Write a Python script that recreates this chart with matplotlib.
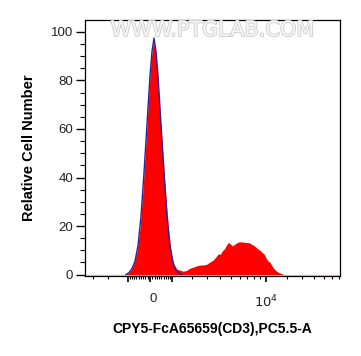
import numpy as np
import matplotlib
matplotlib.use('Agg')
import matplotlib.pyplot as plt
import matplotlib.patheffects as pe
from matplotlib.ticker import FixedLocator, FixedFormatter
from matplotlib.transforms import ScaledTranslation

# ---------------------------------------------------------------------
# data (fluorescence, relative cell number)

# sample histogram (red fill)
red_x = [-1129, -985, -845, -707, -572, -438, -306, -174, -44, 44, 131, 174, 218,
         306, 394, 527, 662, 799, 938, 1081, 1226, 1376, 1530, 1688, 1909, 2145,
         2320, 2511, 2769, 2987, 3207, 3444, 3694, 3858, 4027, 4201, 4383, 4571,
         4779, 4973, 5186, 5407, 5634, 5867, 6231, 6618, 7025, 7369, 7651, 7941,
         8247, 8616, 8955, 9308, 9672, 10051, 10444, 10871, 11275, 11713, 12169,
         12640, 13130, 13638, 14163]
red_y = [0, 0.5, 1.8, 4.5, 9.5, 19, 35, 55, 76, 88, 95, 96, 94,
         86, 73, 55, 37, 21, 9, 4, 2.2, 1.8, 1.4, 1.6, 2.6, 3.2,
         3.6, 3.9, 4.0, 4.3, 5.2, 6.0, 7.5, 8.6, 8.3, 9.8, 10.5, 12.0,
         13.3, 12.6, 11.8, 12.4, 13.0, 13.4, 13.5, 13.3, 13.2, 13.0, 12.4, 12.0,
         11.3, 10.5, 10.0, 9.2, 8.5, 6.8, 5.6, 5.0, 3.6, 2.4, 1.6,
         1.0, 0.6, 0.3, 0]

# control histogram (blue outline)
blue_x = [-1081, -938, -799, -661, -527, -394, -262, -131, 0, 87, 174, 262,
          350, 482, 617, 753, 891, 1033, 1177, 1326, 1478]
blue_y = [0, 0.8, 2.5, 5.5, 12, 24, 42, 62, 82, 92, 97.5, 92,
          82, 62, 42, 24, 12, 5, 1.8, 0.5, 0]

y_major = [0, 20, 40, 60, 80, 100]
x_major = [-1000, 0, 1000, 10000]
x_major_labels = ['', '0', '', '$10^4$']
x_minor = ([-3000, -2000] + list(range(-900, 0, 100)) + list(range(100, 1000, 100))
           + list(range(2000, 10000, 1000)) + [15000, 20000, 25000, 30000, 35000, 40000])

xlabel = 'CPY5-FcA65659(CD3),PC5.5-A'
ylabel = 'Relative Cell Number'
watermark = 'WWW.PTGLAB.COM'

# ---------------------------------------------------------------------
# plotting

plt.rcParams['font.family'] = ['Liberation Sans', 'DejaVu Sans']

fig = plt.figure(figsize=(3.61, 3.56), dpi=100)
ax = fig.add_axes([0.2355, 0.2247, 0.7063, 0.7183])

ax.set_xscale('asinh', linear_width=2330)
ax.set_xlim(-3580, 40590)
ax.set_ylim(-0.6, 104.8)

ax.axhline(0, color='#e8c6d6', linewidth=1.0, zorder=1)
ax.fill_between(red_x, red_y, 0, color='#ff0000', linewidth=0, zorder=2)
ax.plot(blue_x, blue_y, color='#28289a', linewidth=1.0, zorder=3)

ax.text(0.5, 0.962, watermark, transform=ax.transAxes, ha='center', va='center',
        fontsize=15, family='DejaVu Sans', color='#f6f6f6', zorder=4,
        path_effects=[pe.withStroke(linewidth=1.2, foreground='#cccccc')])

ax.yaxis.set_major_locator(FixedLocator(y_major))
ax.yaxis.set_minor_locator(FixedLocator(np.arange(0, 105, 5)))
ax.xaxis.set_major_locator(FixedLocator(x_major))
ax.xaxis.set_major_formatter(FixedFormatter(x_major_labels))
ax.xaxis.set_minor_locator(FixedLocator(x_minor))
ax.xaxis.set_minor_formatter(FixedFormatter([]))

ax.tick_params(axis='y', which='major', length=6.5, width=1.0, labelsize=9.5,
               pad=2, colors='black', labelcolor='#222222')
ax.tick_params(axis='y', which='minor', length=3.5, width=0.8)
ax.tick_params(axis='x', which='major', length=4.5, width=1.2, labelsize=9.5,
               pad=8, labelcolor='#222222')
ax.tick_params(axis='x', which='minor', length=2.5, width=0.8)

# nudge the "0" label a bit to the right like the original
for lab in ax.get_xticklabels():
    if lab.get_text() == '0':
        lab.set_transform(lab.get_transform() + ScaledTranslation(3 / 100, 0, fig.dpi_scale_trans))

for s in ax.spines.values():
    s.set_linewidth(0.9)
    s.set_color('black')

ax.set_xlabel(xlabel, fontsize=10, fontweight='bold', labelpad=9)
ax.set_ylabel(ylabel, fontsize=10.5, fontweight='bold', labelpad=11)

fig.savefig('out.png', dpi=100)
